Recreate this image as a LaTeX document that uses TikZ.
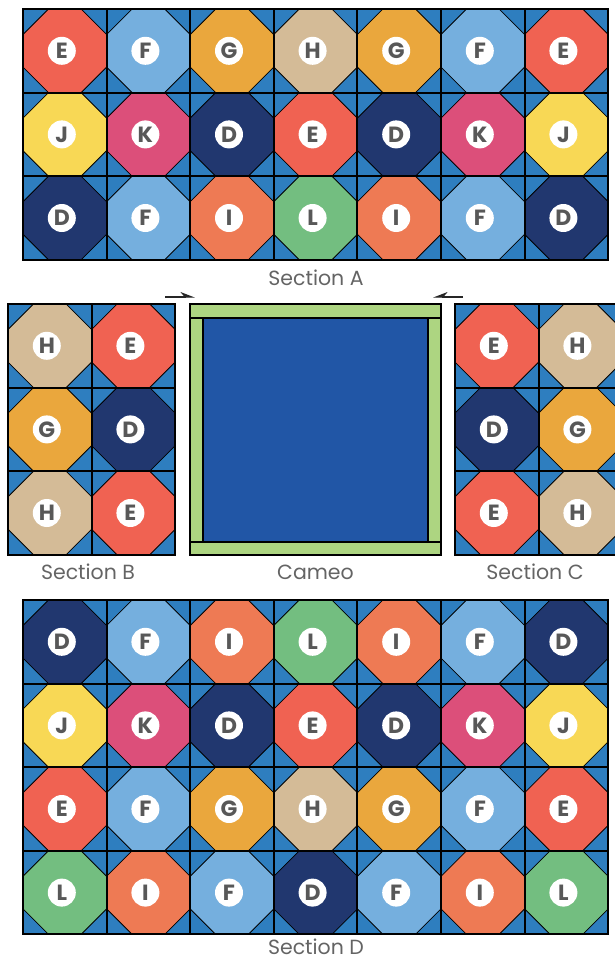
\documentclass[tikz,border=0pt]{standalone}
\usepackage{fontspec}
\setmainfont{Poppins}
\usepackage{xcolor}
\usepackage{tikz}
\usetikzlibrary{positioning, arrows.meta, calc}

\definecolor{tileblue}{RGB}{46,126,191}
\definecolor{colD}{RGB}{33,55,111}
\definecolor{colE}{RGB}{240,98,82}
\definecolor{colF}{RGB}{117,175,222}
\definecolor{colG}{RGB}{234,167,61}
\definecolor{colH}{RGB}{212,187,151}
\definecolor{colI}{RGB}{238,122,84}
\definecolor{colJ}{RGB}{248,216,85}
\definecolor{colK}{RGB}{220,79,122}
\definecolor{colL}{RGB}{115,190,128}
\definecolor{cameoblue}{RGB}{33,86,166}
\definecolor{cameogreen}{RGB}{173,213,129}
\definecolor{lettergray}{RGB}{88,88,88}
\definecolor{labelgray}{RGB}{100,100,100}

\newcommand{\cellsize}{83.6}
\newcommand{\cutsize}{25.5}

% one tile: left, top, letter, node name
\newcommand{\quilttile}[4]{%
  \fill[tileblue] (#1,#2) rectangle ++(\cellsize,\cellsize);
  \filldraw[fill=col#3, octaline]
    (#1+\cutsize,#2) -- (#1+\cellsize-\cutsize,#2) -- (#1+\cellsize,#2+\cutsize)
    -- (#1+\cellsize,#2+\cellsize-\cutsize) -- (#1+\cellsize-\cutsize,#2+\cellsize)
    -- (#1+\cutsize,#2+\cellsize) -- (#1,#2+\cellsize-\cutsize) -- (#1,#2+\cutsize) -- cycle;
  \node[letter] (#4) at (#1+\cellsize/2-3,#2+\cellsize/2) {#3};
}

% grid of a block: left, top, columns, rows
\newcommand{\quiltgrid}[4]{%
  \foreach \i in {0,...,#3}
    \draw[gridline] (#1+\i*\cellsize,#2) -- ++(0,#4*\cellsize);
  \foreach \j in {0,...,#4}
    \draw[gridline] (#1,#2+\j*\cellsize) -- ++(#3*\cellsize,0);
}

\tikzset{
  octaline/.style={draw=black, line width=0.8pt},
  gridline/.style={draw=black, line width=2pt, line cap=rect},
  letter/.style={circle, fill=white, minimum size=28pt, inner sep=0pt,
    text=lettergray, font=\fontsize{22}{22}\selectfont\bfseries},
  seclabel/.style={text=labelgray, inner sep=0pt, font=\fontsize{20.5}{20.5}\selectfont},
  framepart/.style={draw=black, line width=1.2pt},
  hint/.style={draw=black!85, line width=1.2pt}
}

\begin{document}
\begin{tikzpicture}[x=1pt, y=-1pt]
  \useasboundingbox (0,0) rectangle (615,961);

  % Section A
  \foreach \row/\letters in {0/{E,F,G,H,G,F,E}, 1/{J,K,D,E,D,K,J}, 2/{D,F,I,L,I,F,D}} {
    \foreach \l [count=\c from 0] in \letters {
      \quilttile{23+\c*\cellsize}{9+\row*\cellsize}{\l}{a-\row-\c}
    }
  }
  \quiltgrid{23}{9}{7}{3}
  \node[seclabel] (labA) at (316,278) {Section A};

  % Section B
  \foreach \row/\letters in {0/{H,E}, 1/{G,D}, 2/{H,E}} {
    \foreach \l [count=\c from 0] in \letters {
      \quilttile{8+\c*\cellsize}{304+\row*\cellsize}{\l}{b-\row-\c}
    }
  }
  \quiltgrid{8}{304}{2}{3}
  \node[seclabel] (labB) at (88,572) {Section B};

  % Section C
  \foreach \row/\letters in {0/{E,H}, 1/{D,G}, 2/{E,H}} {
    \foreach \l [count=\c from 0] in \letters {
      \quilttile{455+\c*\cellsize}{304+\row*\cellsize}{\l}{c-\row-\c}
    }
  }
  \quiltgrid{455}{304}{2}{3}
  \node[seclabel] (labC) at (535,572) {Section C};

  % Cameo
  \node[framepart, fill=cameogreen, minimum size=251pt, inner sep=0pt] (cameo) at (315.5,429.5) {};
  \draw[framepart] (190,318) -- (441,318);
  \draw[framepart] (190,542) -- (441,542);
  \node[framepart, fill=cameoblue, minimum width=225pt, minimum height=224pt, inner sep=0pt] (centre) at (315.5,430) {};
  \node[seclabel, below=9pt of cameo] (labCameo) {Cameo};

  % Arrows
  \coordinate (hintL) at (165,297);
  \coordinate (hintLend) at (195,297);
  \coordinate (hintR) at (463,297);
  \coordinate (hintRend) at (433,297);
  \draw[hint, -{Stealth[harpoon, length=13pt, width=10pt]}] (hintL) -- (hintLend);
  \draw[hint, -{Stealth[harpoon, swap, length=13pt, width=10pt]}] (hintR) -- (hintRend);

  % Section D
  \foreach \row/\letters in {0/{D,F,I,L,I,F,D}, 1/{J,K,D,E,D,K,J}, 2/{E,F,G,H,G,F,E}, 3/{L,I,F,D,F,I,L}} {
    \foreach \l [count=\c from 0] in \letters {
      \quilttile{23+\c*\cellsize}{600+\row*\cellsize}{\l}{d-\row-\c}
    }
  }
  \quiltgrid{23}{600}{7}{4}
  \node[seclabel] (labD) at (316,947) {Section D};
\end{tikzpicture}
\end{document}
